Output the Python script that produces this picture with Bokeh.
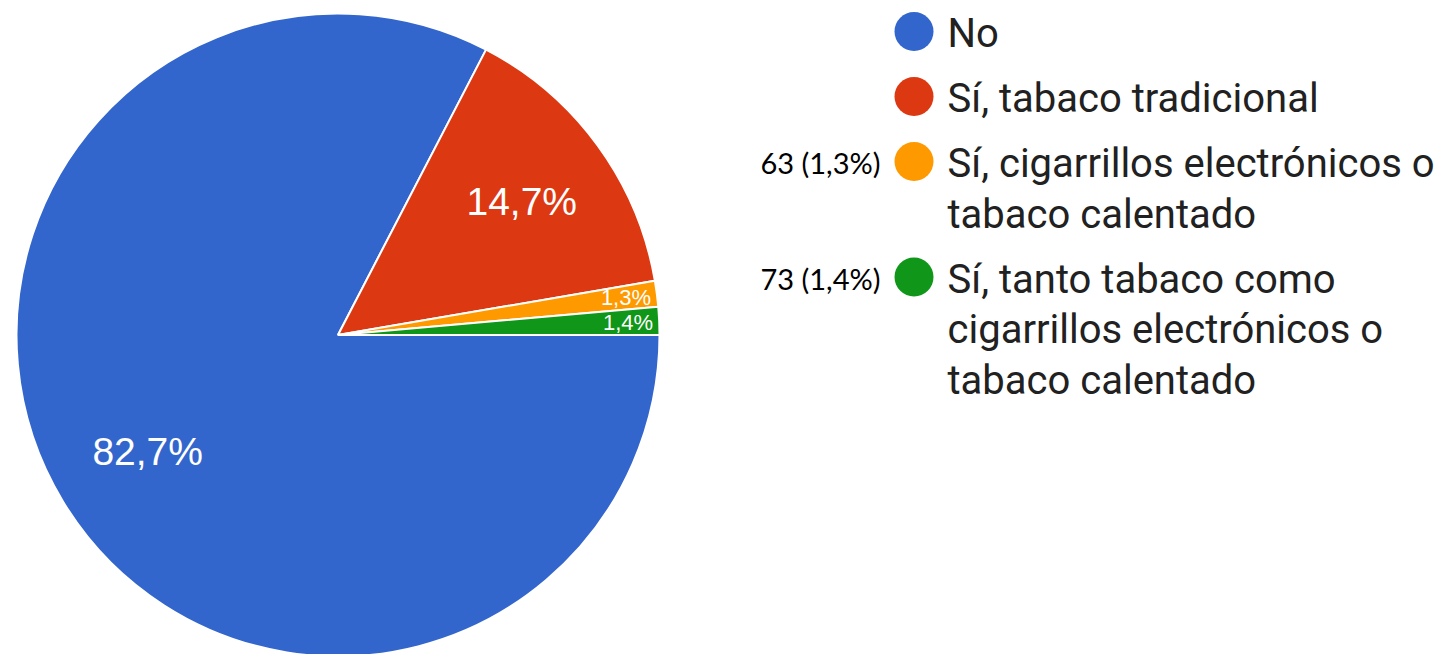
import math
from bokeh.plotting import figure
from bokeh.models import Range1d, ColumnDataSource
from bokeh.core.properties import value
from bokeh.embed import file_html
from bokeh.resources import INLINE

# ---- data ----
categories = ["No", "Sí, tabaco tradicional",
              "Sí, cigarrillos electrónicos o tabaco calentado",
              "Sí, tanto tabaco como cigarrillos electrónicos o tabaco calentado"]
legend_lines = [["No"],
                ["Sí, tabaco tradicional"],
                ["Sí, cigarrillos electrónicos o", "tabaco calentado"],
                ["Sí, tanto tabaco como", "cigarrillos electrónicos o", "tabaco calentado"]]
percents = [82.7, 14.7, 1.3, 1.4]
pct_labels = ["82,7%", "14,7%", "1,3%", "1,4%"]
side_labels = ["", "", "63 (1,3%)", "73 (1,4%)"]
colors = ["#3366CC", "#DC3912", "#FF9900", "#109618"]

W, H = 1438, 654
p = figure(width=W, height=H, output_backend="svg", toolbar_location=None,
           x_range=Range1d(0, W), y_range=Range1d(0, H),
           min_border=0, outline_line_color=None)
p.axis.visible = False
p.grid.visible = False
p.background_fill_color = "white"

def Y(ref_y):
    return H - ref_y

SHIFT = 0.37  # baseline correction (fraction of font size)

# ---- pie ----
cx, cy, r = 337.5, Y(334.5), 321.5
total = sum(percents)
starts, ends, mids = [], [], []
cum = 0.0
for v in percents:
    a_before = -2 * math.pi * cum / total
    cum += v
    a_after = -2 * math.pi * cum / total
    starts.append(a_after)
    ends.append(a_before)
    mids.append((a_after + a_before) / 2)

src = ColumnDataSource(dict(start=starts, end=ends, color=colors))
p.wedge(x=cx, y=cy, radius=r, start_angle="start", end_angle="end",
        direction="anticlock", fill_color="color", line_color="white",
        line_width=2, source=src)

lx, ly, lfs = [], [], []
for v, m in zip(percents, mids):
    big = v / total > 0.05
    d = r * (0.70 if big else 0.90)
    fs = 39 if big else 22
    lx.append(cx + d * math.cos(m) + (2 if big else 1))
    ly.append(cy + d * math.sin(m) - 0.358 * fs + SHIFT * fs)
    lfs.append(f"{fs}px")
p.text(x=lx, y=ly, text=pct_labels, text_font=value("Liberation Sans"),
       text_font_size=lfs, text_color="white", text_align="center",
       text_baseline="alphabetic")

# ---- legend ----
base = 45
mx, msize = 913.5, 39
tx = 947
line_h = 50.5
gap = 65
fs_leg, fs_side = 40, 29
t_x, t_y, t_txt = [], [], []
m_x, m_y = [], []
s_x, s_y, s_txt = [], [], []
for lines, col, side in zip(legend_lines, colors, side_labels):
    m_x.append(mx)
    m_y.append(Y(base - 14))
    for j, ln in enumerate(lines):
        t_x.append(tx)
        t_y.append(Y(base + 3 + j * line_h) + SHIFT * fs_leg)
        t_txt.append(ln)
    if side:
        s_x.append(880)
        s_y.append(Y(base - 2) + SHIFT * fs_side)
        s_txt.append(side)
    base += gap + line_h * (len(lines) - 1)

p.scatter(x=m_x, y=m_y, size=msize, marker="circle", fill_color=colors, line_color=None)
p.text(x=t_x, y=t_y, text=t_txt, text_font=value("Roboto"), text_font_size=f"{fs_leg}px",
       text_color="#212121", text_align="left", text_baseline="alphabetic")
p.text(x=s_x, y=s_y, text=s_txt, text_font=value("Lato"), text_font_size=f"{fs_side}px",
       text_color="#000000", text_align="right", text_baseline="alphabetic")

open("out.html", "w").write(file_html(p, INLINE))
